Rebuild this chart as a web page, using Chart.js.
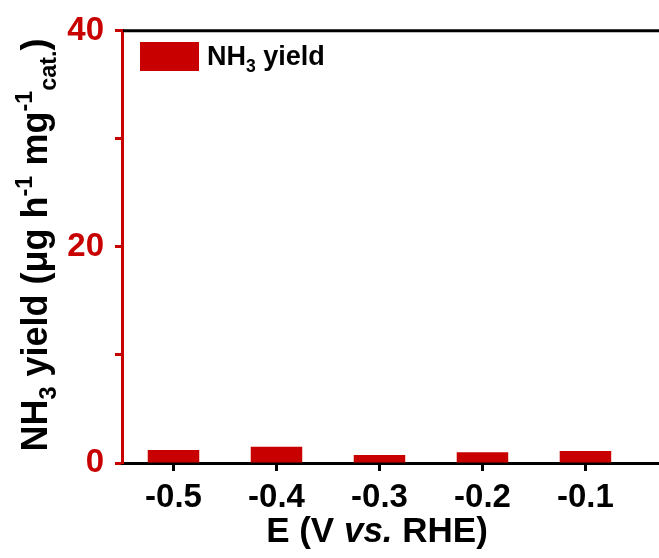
<!DOCTYPE html>
<html>
<head>
<meta charset="utf-8">
<script src="https://cdn.jsdelivr.net/npm/chart.js@4"></script>
<style>
  html, body { margin: 0; padding: 0; background: #fff; }
  #wrap { width: 659px; height: 558px; }
</style>
</head>
<body>
<div id="wrap"><canvas id="yieldChart"></canvas></div>
<script>
const potentials = [-0.5, -0.4, -0.3, -0.2, -0.1];
const nh3Yields = [1.2, 1.5, 0.75, 1.0, 1.1];
const yTickValues = [0, 10, 20, 30, 40];
const yLabelled = [0, 20, 40];

const RED = "#c80000";
const FONT = "'Liberation Sans', Arial, sans-serif";

// draws a run of text pieces (normal / sub / sup) starting at x, on baseline y
function richWidth(ctx, parts, size) {
  let w = 0;
  parts.forEach((p) => {
    const s = p.kind === "n" ? size : size * 0.65;
    ctx.font = (p.italic ? "italic " : "") + "bold " + s + "px " + FONT;
    w += ctx.measureText(p.text).width;
  });
  return w;
}
function richDraw(ctx, parts, x, y, size) {
  parts.forEach((p) => {
    const s = p.kind === "n" ? size : size * 0.65;
    ctx.font = (p.italic ? "italic " : "") + "bold " + s + "px " + FONT;
    let dy = 0;
    if (p.kind === "sub") dy = size * 0.25;
    if (p.kind === "sup") dy = -size * 0.42;
    ctx.fillText(p.text, x, y + dy);
    x += ctx.measureText(p.text).width;
  });
}

const yTitle = [
  { text: "NH", kind: "n" },
  { text: "3", kind: "sub" },
  { text: " yield (\u03bcg h", kind: "n" },
  { text: "-1", kind: "sup" },
  { text: " mg", kind: "n" },
  { text: "-1", kind: "sup" },
  { text: "cat.", kind: "sub" },
  { text: ")", kind: "n" },
];
const xTitle = [
  { text: "E (V ", kind: "n" },
  { text: "vs.", kind: "n", italic: true },
  { text: " RHE)", kind: "n" },
];
const legendText = [
  { text: "NH", kind: "n" },
  { text: "3", kind: "sub" },
  { text: " yield", kind: "n" },
];

const decorations = {
  id: "decorations",
  afterDraw(chart) {
    const ctx = chart.ctx;
    const a = chart.chartArea;
    ctx.save();
    // top frame line
    ctx.strokeStyle = "#000";
    ctx.lineWidth = 3;
    ctx.beginPath();
    ctx.moveTo(a.left + 1, a.top);
    ctx.lineTo(a.right + 5, a.top);
    ctx.stroke();

    ctx.fillStyle = "#000";
    ctx.textBaseline = "alphabetic";
    ctx.textAlign = "left";

    // x title
    const xs = 35;
    const xw = richWidth(ctx, xTitle, xs);
    richDraw(ctx, xTitle, 377 - xw / 2, 542, xs);

    // y title
    const ys = 36;
    const yw = richWidth(ctx, yTitle, ys);
    ctx.save();
    ctx.translate(47, 245);
    ctx.rotate(-Math.PI / 2);
    richDraw(ctx, yTitle, -yw / 2, 0, ys);
    ctx.restore();

    // legend
    ctx.fillStyle = RED;
    ctx.fillRect(140, 42, 59, 29);
    ctx.fillStyle = "#000";
    richDraw(ctx, legendText, 207, 65, 27);
    ctx.restore();
  },
};

new Chart(document.getElementById("yieldChart"), {
  type: "bar",
  data: {
    datasets: [
      {
        label: "NH3 yield",
        data: potentials.map((p, i) => ({ x: p, y: nh3Yields[i] })),
        backgroundColor: RED,
        borderWidth: 0,
        barPercentage: 0.5,
        categoryPercentage: 1,
      },
    ],
  },
  options: {
    responsive: true,
    maintainAspectRatio: false,
    animation: false,
    layout: { padding: { top: 25, right: 0, left: 0, bottom: 0 } },
    plugins: { legend: { display: false }, tooltip: { enabled: false } },
    scales: {
      x: {
        type: "linear",
        offset: false,
        min: -0.55,
        max: -0.0286,
        afterBuildTicks: (s) => {
          s.ticks = potentials.map((v) => ({ value: v }));
        },
        afterFit: (s) => {
          s.height = 95;
        },
        ticks: {
          color: "#000",
          font: { family: FONT, size: 33, weight: "bold" },
          padding: 7,
          maxRotation: 0,
          callback: (v) => Number(v).toFixed(1),
        },
        grid: {
          offset: false,
          drawOnChartArea: false,
          tickLength: 8,
          tickWidth: 3,
          tickColor: "#000",
        },
        border: { color: "#000", width: 3 },
      },
      y: {
        min: 0,
        max: 40,
        afterBuildTicks: (s) => {
          s.ticks = yTickValues.map((v) => ({ value: v }));
        },
        afterFit: (s) => {
          s.width = 122;
        },
        ticks: {
          color: RED,
          font: { family: FONT, size: 33, weight: "bold" },
          padding: 11,
          callback: (v) => (yLabelled.includes(v) ? String(v) : ""),
        },
        grid: {
          drawOnChartArea: false,
          tickLength: 7,
          tickWidth: 3,
          tickColor: RED,
        },
        border: { color: RED, width: 3 },
      },
    },
  },
  plugins: [decorations],
});
</script>
</body>
</html>
